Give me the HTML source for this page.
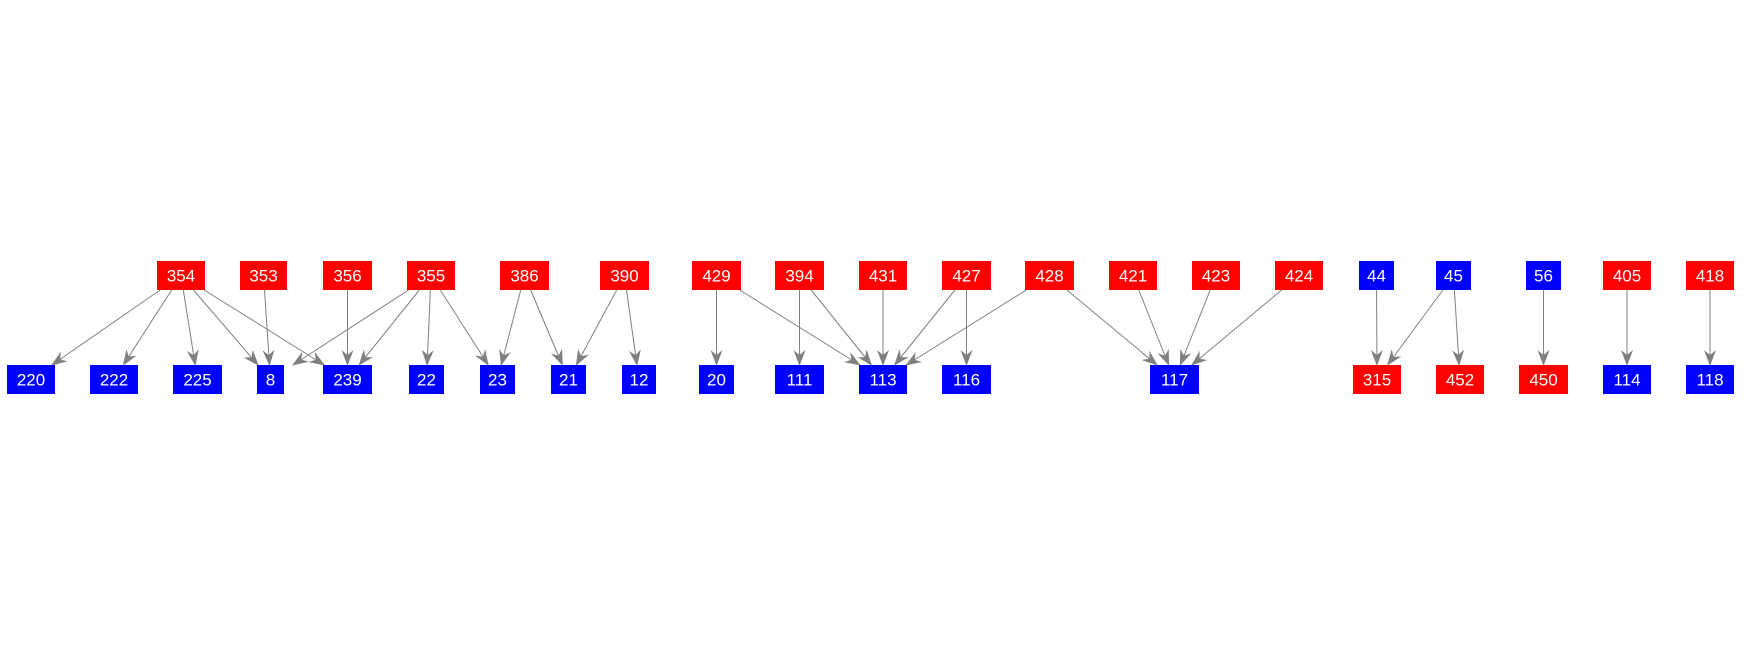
<!DOCTYPE html>
<html><head><meta charset="utf-8"><style>
html,body{margin:0;padding:0;background:#fff;width:1744px;height:656px;overflow:hidden}
svg text{font-family:"Liberation Sans",Arial,sans-serif;font-size:17px;fill:#fff;text-anchor:middle;dominant-baseline:central}
</style></head><body>
<svg id="s" width="1744" height="656" xmlns="http://www.w3.org/2000/svg">
<defs><marker id="a" markerWidth="16" markerHeight="12" refX="15" refY="6" orient="auto" markerUnits="userSpaceOnUse"><path d="M0,0 L16,6 L0,12 L5,6 Z" fill="#808080"/></marker></defs>
<g id="e"></g>
<g id="n"></g>
</svg>
<script>
var T=[["354",157,205,"r"],["353",240,287,"r"],["356",323,372,"r"],["355",407,455,"r"],["386",500,549,"r"],["390",600,649,"r"],["429",692,741,"r"],["394",775,824,"r"],["431",859,907,"r"],["427",942,991,"r"],["428",1025,1074,"r"],["421",1109,1157,"r"],["423",1192,1240,"r"],["424",1275,1323,"r"],["44",1359,1394,"b"],["45",1436,1471,"b"],["56",1526,1561,"b"],["405",1603,1651,"r"],["418",1686,1734,"r"]];
var B=[["220",7,55,"b"],["222",90,138,"b"],["225",173,222,"b"],["8",257,284,"b"],["239",323,372,"b"],["22",409,444,"b"],["23",480,515,"b"],["21",551,586,"b"],["12",622,656,"b"],["20",699,734,"b"],["111",775,824,"b"],["113",859,907,"b"],["116",942,991,"b"],["117",1150,1199,"b"],["315",1353,1401,"r"],["452",1436,1484,"r"],["450",1519,1568,"r"],["114",1603,1651,"b"],["118",1686,1734,"b"]];
var E=[["354","220"],["354","222"],["354","225"],["354","8"],["354","239"],["353","8"],["356","239"],["355","8"],["355","239"],["355","22"],["355","23"],["386","23"],["386","21"],["390","21"],["390","12"],["429","20"],["429","113"],["394","111"],["394","113"],["431","113"],["427","113"],["427","116"],["428","113"],["428","117"],["421","117"],["423","117"],["424","117"],["44","315"],["45","315"],["45","452"],["56","450"],["405","114"],["418","118"]];
var NS="http://www.w3.org/2000/svg",P={},Q={};
function box(d,y,m){var r=document.createElementNS(NS,"rect");r.setAttribute("x",d[1]);r.setAttribute("y",y);r.setAttribute("width",d[2]-d[1]);r.setAttribute("height",29);r.setAttribute("fill",d[3]=="r"?"#ff0000":"#0000ff");document.getElementById("n").appendChild(r);var t=document.createElementNS(NS,"text");t.setAttribute("x",(d[1]+d[2])/2);t.setAttribute("y",y+15);t.textContent=d[0];document.getElementById("n").appendChild(t);m[d[0]]=(d[1]+d[2])/2;}
T.forEach(function(d){box(d,261,P)});B.forEach(function(d){box(d,365,Q)});
E.forEach(function(e){var x1=P[e[0]],x2=Q[e[1]],y1=275.5,y2=379.5;var f=function(y){return x1+(x2-x1)*(y-y1)/(y2-y1)};var l=document.createElementNS(NS,"line");l.setAttribute("x1",f(290));l.setAttribute("y1",290);l.setAttribute("x2",f(365));l.setAttribute("y2",365);l.setAttribute("stroke","#808080");l.setAttribute("stroke-width","1");l.setAttribute("marker-end","url(#a)");document.getElementById("e").appendChild(l);});
</script>
</body></html>
